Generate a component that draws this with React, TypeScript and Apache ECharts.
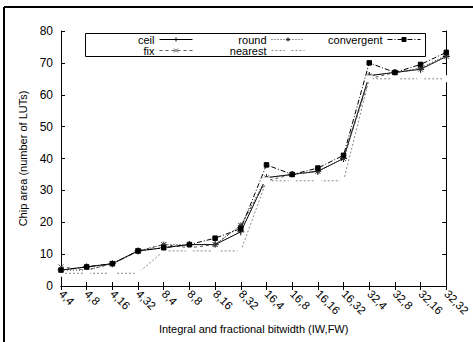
import React, { useEffect, useRef } from "react";
import * as echarts from "echarts";

const categories = ["4,4", "4,8", "4,16", "4,32", "8,4", "8,8", "8,16", "8,32", "16,4", "16,8", "16,16", "16,32", "32,4", "32,8", "32,16", "32,32"];
const ceilData = [5, 6, 7, 11, 12, 13, 13, 17, 34, 35, 36, 40, 66, 67, 68, 72];
const fixData = [6, 5, 7, 11, 13, 12, 13, 19, 33, 35, 36, 40, 65, 67, 68, 72];
const roundData = [5, 5, 7, 11, 13, 13, 13, 19, 34, 35, 36, 40, 66, 67, 68.4, 72.4];
const nearestData = [4, 4, 4, 4, 11, 11, 11, 11, 33, 33, 33, 33, 65, 65, 65, 65];
const convergentData = [5, 6, 7, 11, 12, 13, 15, 18, 38, 35, 37, 41, 70, 67, 69.5, 73.3];
const yTicks = { min: 0, max: 80, interval: 10 };

const FONT = "'Liberation Sans', Arial, Helvetica, sans-serif";
const PLUS = "path://M0,5L10,5M5,0L5,10";
const CROSS = "path://M0,0L10,10M10,0L0,10";
const STAR = "path://M0,5L10,5M5,0L5,10M1.5,1.5L8.5,8.5M8.5,1.5L1.5,8.5";

export default function App() {
  const ref = useRef<HTMLDivElement>(null);
  useEffect(() => {
    if (!ref.current) return;
    const chart = echarts.init(ref.current, undefined, { renderer: "svg" });
    const legendCommon = {
      orient: "horizontal",
      align: "right",
      padding: 0,
      itemWidth: 33,
      itemHeight: 5,
      lineStyle: { width: 1 },
      itemStyle: { borderWidth: 1 },
      textStyle: { fontSize: 11, color: "#000", fontFamily: FONT },
      selectedMode: false,
    };
    const mkSeries = (name: string, data: number[], color: string, type: any, symbol: string, size: number, extra: any = {}) => ({
      name,
      type: "line",
      data,
      symbol,
      symbolSize: size,
      showAllSymbol: true,
      lineStyle: { color, width: 1, type },
      itemStyle: { color, borderColor: color, borderWidth: 1 },
      emphasis: { disabled: true },
      ...extra,
    });
    chart.setOption({
      animation: false,
      textStyle: { fontFamily: FONT },
      grid: { left: 61, top: 31, right: 23, bottom: 56, containLabel: false },
      legend: [
        { ...legendCommon, data: ["ceil"], right: 280, top: 34 },
        { ...legendCommon, data: ["fix"], right: 280, top: 45 },
        { ...legendCommon, data: ["round"], right: 168, top: 34 },
        { ...legendCommon, data: ["nearest"], right: 168, top: 45 },
        { ...legendCommon, data: ["convergent"], right: 52, top: 34 },
      ],
      xAxis: [
        {
          type: "category",
          data: categories,
          boundaryGap: false,
          position: "bottom",
          name: "Integral and fractional bitwidth (IW,FW)",
          nameLocation: "middle",
          nameGap: 36,
          nameTextStyle: { fontSize: 11, color: "#000", fontFamily: FONT },
          axisLine: { lineStyle: { color: "#000", width: 1 } },
          axisTick: { inside: true, length: 4, interval: 0, lineStyle: { color: "#000" } },
          axisLabel: { rotate: -45, interval: 0, fontSize: 11.5, color: "#000", margin: 6, fontFamily: FONT },
          splitLine: { show: false },
        },
        {
          type: "category",
          data: categories,
          boundaryGap: false,
          position: "top",
          axisLine: { lineStyle: { color: "#000", width: 1 } },
          axisTick: { inside: true, length: 4, interval: 0, lineStyle: { color: "#000" } },
          axisLabel: { show: false },
          splitLine: { show: false },
        },
      ],
      yAxis: [
        {
          type: "value",
          min: yTicks.min,
          max: yTicks.max,
          interval: yTicks.interval,
          position: "left",
          name: "Chip area (number of LUTs)",
          nameLocation: "middle",
          nameGap: 30,
          nameTextStyle: { fontSize: 11, color: "#000", fontFamily: FONT },
          axisLine: { show: true, lineStyle: { color: "#000", width: 1 } },
          axisTick: { show: true, inside: true, length: 4, lineStyle: { color: "#000" } },
          axisLabel: { fontSize: 12, color: "#000", margin: 8, fontFamily: FONT },
          splitLine: { show: false },
        },
        {
          type: "value",
          min: yTicks.min,
          max: yTicks.max,
          interval: yTicks.interval,
          position: "right",
          axisLine: { show: true, lineStyle: { color: "#000", width: 1 } },
          axisTick: { show: true, inside: true, length: 4, lineStyle: { color: "#000" } },
          axisLabel: { show: false },
          splitLine: { show: false },
        },
      ],
      graphic: [
        { type: "line", shape: { x1: 4, y1: 7, x2: 473, y2: 7 }, style: { stroke: "#000", lineWidth: 2 }, z: 100 },
        { type: "line", shape: { x1: 4, y1: 7, x2: 4, y2: 342 }, style: { stroke: "#000", lineWidth: 2 }, z: 100 },
        { type: "rect", shape: { x: 85.5, y: 33.5, width: 340, height: 23 }, style: { fill: "#fff", stroke: "#000", lineWidth: 1 }, z: 1 },
      ],
      series: [
        mkSeries("ceil", ceilData, "#000", "solid", PLUS, 7),
        mkSeries("fix", fixData, "#555", [3, 3], CROSS, 5),
        mkSeries("round", roundData, "#333", [1, 2], STAR, 6),
        mkSeries("nearest", nearestData, "#888", [2, 2], "emptyRect", 5, { itemStyle: { color: "#fff", borderColor: "#888", borderWidth: 1 } }),
        mkSeries("convergent", convergentData, "#000", [5, 2, 1, 2], "rect", 4.5),
      ],
    });
    return () => chart.dispose();
  }, []);
  return <div ref={ref} style={{ width: 473, height: 342, position: "absolute", left: 0, top: 0 }} />;
}
